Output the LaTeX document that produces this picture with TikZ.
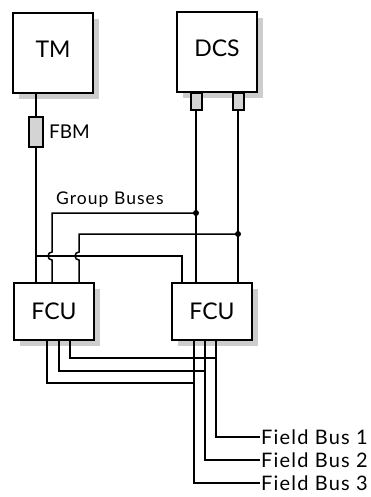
\documentclass[tikz,border=0pt]{standalone}
\usepackage{fontspec}
\setmainfont{Lato}
\newfontfamily\labelfont[LetterSpace=6]{Lato}
\usetikzlibrary{positioning, shadows}
\definecolor{shadegray}{RGB}{205,205,205}
\definecolor{pluggray}{RGB}{212,212,212}

\begin{document}
\begin{tikzpicture}[x=1pt, y=-1pt,
    unit/.style={draw, line width=2pt, fill=white, minimum width=80pt, minimum height=80pt, inner sep=0pt,
      font=\fontsize{23}{23}\selectfont,
      copy shadow={shadow xshift=6pt, shadow yshift=-6pt, draw=none, fill=shadegray}},
    raised/.style={text height=16.5pt, text depth=8pt},
    plug/.style={draw, line width=2pt, fill=pluggray, minimum width=11pt, minimum height=17pt, inner sep=0pt},
    bus/.style={line width=1.5pt},
    lbl/.style={font=\labelfont\fontsize{17.5}{18}\selectfont, inner sep=1pt}]
  \useasboundingbox (0,0) rectangle (371,497);

  \node[unit, raised] (tm) at (53,53) {TM};
  \node[unit, raised] (dcs) at (217,52) {DCS};
  \node[unit, minimum height=57pt] (fcua) at (54,311.5) {FCU};
  \node[unit, minimum height=57pt] (fcub) at (212,311.5) {FCU};

  % fieldbus module below TM
  \node[plug, minimum width=14pt, minimum height=30pt] (fbm) at (36,132) {};
  \node[lbl, font=\fontsize{19}{19}\selectfont, right=4pt of fbm] (fbmtext) {FBM};
  \draw[bus] (tm.south -| fbm) -- (fbm);
  \draw[bus] (fbm) -- (fbm |- fcua.north);

  % DCS ports
  \node[plug, anchor=north] (porta) at (196,92) {};
  \node[plug, anchor=north] (portb) at (238,92) {};
  \draw[bus] (porta) -- (porta |- fcub.north);
  \draw[bus] (portb) -- (portb |- fcub.north);

  % group buses
  \node[lbl, anchor=base west] (gbtext) at (55,204) {Group Buses};
  \coordinate (tap1) at (196,213);
  \coordinate (tap2) at (238,234);
  \coordinate (hop1) at (52,252);
  \coordinate (hop2) at (79,252);
  \coordinate (tap3) at (36,256);
  \coordinate (drop3) at (182,283);
  \draw[bus] (tap1) -| (hop1) arc[start angle=90, end angle=270, radius=4pt] -- (hop1 |- fcua.north);
  \draw[bus] (tap2) -| (hop2) arc[start angle=90, end angle=270, radius=4pt] -- (hop2 |- fcua.north);
  \draw[bus] (tap3) -| (drop3);
  \fill (tap1) circle (3pt);
  \fill (tap2) circle (3pt);

  % field buses
  \foreach \i/\xa/\xb/\ya/\yb in {1/70/216/358/437, 2/59/205/371/460, 3/47/194/383/483} {
    \coordinate (fa\i) at (\xa,340);
    \coordinate (fb\i) at (\xb,340);
    \coordinate (tee\i) at (\xb,\ya);
    \coordinate (end\i) at (260,\yb);
    \draw[bus] (fa\i) |- (tee\i);
    \draw[bus] (fb\i) |- (end\i);
    \node[lbl, font=\labelfont\fontsize{20}{20}\selectfont, anchor=west] (field\i) at (end\i) {Field Bus \i};
  }
\end{tikzpicture}
\end{document}
